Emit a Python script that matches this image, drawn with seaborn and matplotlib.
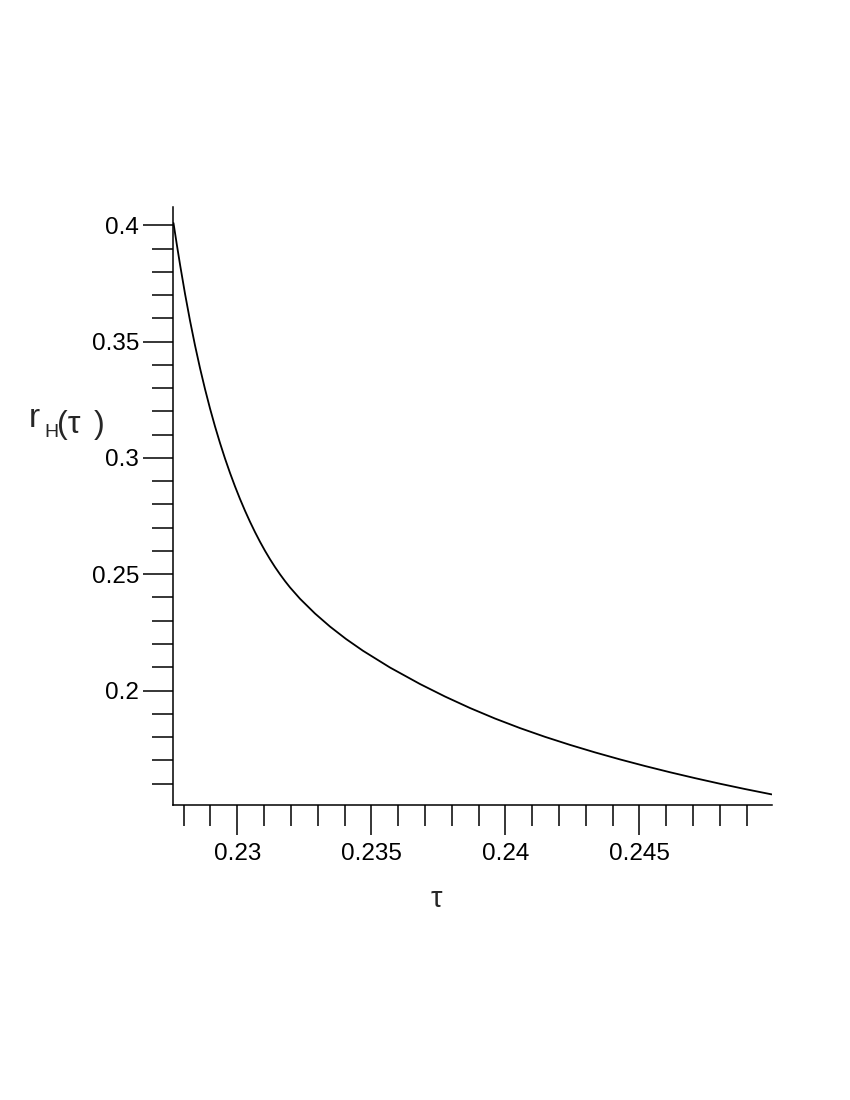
import matplotlib
matplotlib.use("Agg")
import matplotlib.pyplot as plt
import seaborn as sns
import pandas as pd
from matplotlib.ticker import MultipleLocator, FixedLocator

# values (curve r_H(tau))
tau = [0.2276194, 0.2277407, 0.2278619, 0.2280485, 0.2282351, 0.2284216,
       0.2286082, 0.2287948, 0.2289813, 0.2291679, 0.2293545, 0.2295410,
       0.2297276, 0.2299142, 0.2301007, 0.2302873, 0.2304739, 0.2306604,
       0.2308470, 0.2310336, 0.2312201, 0.2314067, 0.2315933, 0.2317799,
       0.2319664, 0.2323396, 0.2328993, 0.2334590, 0.2340560, 0.2346903,
       0.2356978, 0.2368172, 0.2377500, 0.2386828, 0.2396157, 0.2405485,
       0.2414813, 0.2424142, 0.2433470, 0.2442799, 0.2452127, 0.2461455,
       0.2470784, 0.2480112, 0.2489440, 0.2499403]
r_H = [0.40099, 0.39194, 0.38324, 0.37064, 0.35906, 0.34842,
       0.33864, 0.32963, 0.32129, 0.31357, 0.30642, 0.29976,
       0.29356, 0.28777, 0.28236, 0.27730, 0.27256, 0.26812,
       0.26396, 0.26007, 0.25646, 0.25309, 0.24997, 0.24705,
       0.24433, 0.23945, 0.23310, 0.22749, 0.22216, 0.21708,
       0.20988, 0.20279, 0.19741, 0.19247, 0.18795, 0.18384,
       0.18008, 0.17662, 0.17339, 0.17037, 0.16753, 0.16485,
       0.16232, 0.15991, 0.15763, 0.15533]

x_major = [0.23, 0.235, 0.24, 0.245]
x_labels = ["0.23", "0.235", "0.24", "0.245"]
y_major = [0.2, 0.25, 0.3, 0.35, 0.4]
y_labels = ["0.2", "0.25", "0.3", "0.35", "0.4"]
x_range = (0.227612, 0.24994)
y_range = (0.15077, 0.4079)

sns.set_style("ticks")
plt.rcParams['font.family'] = ['Liberation Sans', 'DejaVu Sans']

df = pd.DataFrame({"tau": tau, "r": r_H})

fig = plt.figure(figsize=(8.5, 11), dpi=100)
ax = fig.add_axes([173.3 / 850, 1 - 805 / 1100, (771.7 - 173.3) / 850, (805 - 207) / 1100])

sns.lineplot(data=df, x="tau", y="r", ax=ax, color="black", linewidth=1.3,
             sort=False, estimator=None)

ax.set_xlim(*x_range)
ax.set_ylim(*y_range)

for s in ["top", "right"]:
    ax.spines[s].set_visible(False)
for s in ["left", "bottom"]:
    ax.spines[s].set_linewidth(1.1)
    ax.spines[s].set_color("black")

ax.xaxis.set_major_locator(FixedLocator(x_major))
ax.set_xticklabels(x_labels)
ax.xaxis.set_minor_locator(MultipleLocator(0.001))
ax.yaxis.set_major_locator(FixedLocator(y_major))
ax.set_yticklabels(y_labels)
ax.yaxis.set_minor_locator(MultipleLocator(0.01))

ax.tick_params(axis="both", which="major", direction="out", length=21.6, width=1.1,
               color="black", labelsize=17.5, labelcolor="black")
ax.tick_params(axis="both", which="minor", direction="out", length=15.3, width=1.1,
               color="black")
ax.tick_params(axis="x", which="major", pad=6)
ax.tick_params(axis="y", which="major", pad=3)
ax.set_xlabel("")
ax.set_ylabel("")
ax.grid(False)

# axis labels
fig.text(436 / 850, 1 - 907 / 1100, "τ", fontsize=21, ha="center", va="baseline")
fig.text(28.5 / 850, 1 - 427 / 1100, "r", fontsize=24, ha="left", va="baseline")
fig.text(44 / 850, 1 - 437 / 1100, "H", fontsize=14, ha="left", va="baseline")
fig.text(57.5 / 850, 1 - 433.4 / 1100, "(τ", fontsize=23, ha="left", va="baseline")
fig.text(93.5 / 850, 1 - 433.4 / 1100, ")", fontsize=23, ha="left", va="baseline")

fig.savefig("out.png", dpi=100, facecolor="white")
